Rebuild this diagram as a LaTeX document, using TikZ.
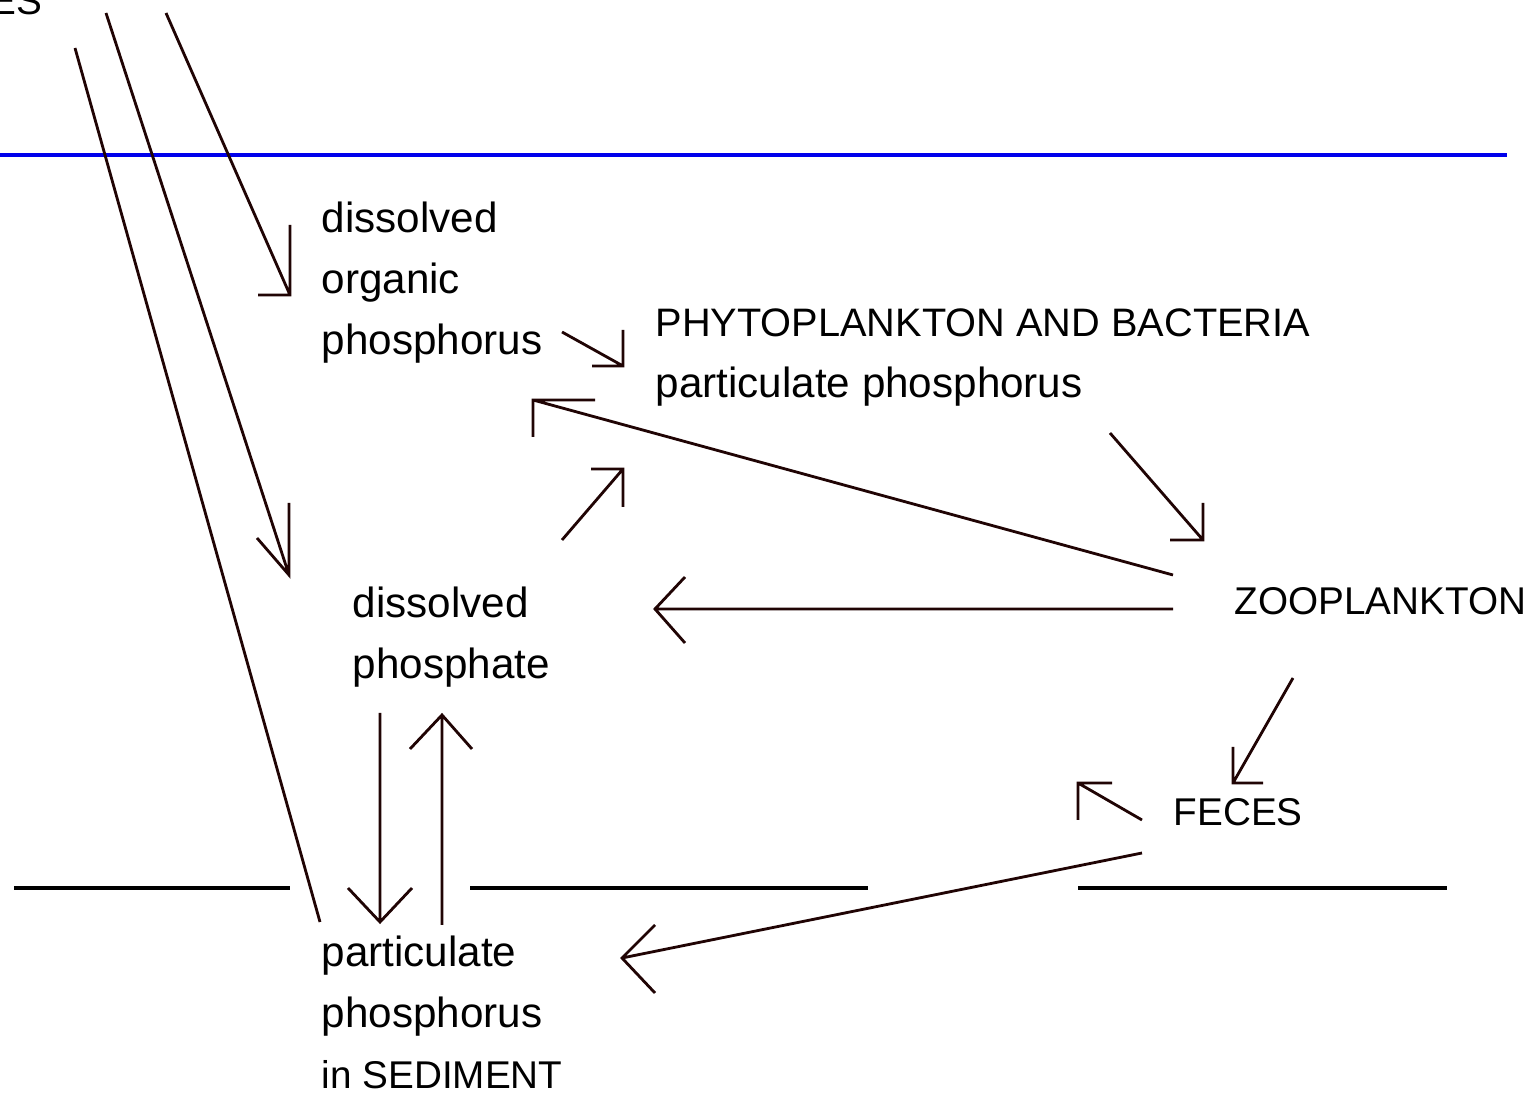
\documentclass[tikz,border=0pt]{standalone}
\usepackage{fontspec}
\setmainfont{Liberation Sans}
\usepackage{tikz}
\definecolor{ink}{RGB}{32,4,4}
\definecolor{surface}{RGB}{0,0,235}
\tikzset{%
    flow/.style={draw=ink, line width=0.8pt},
    level/.style={draw=black, line width=1.15pt},
    lbl/.style={anchor=north west, inner sep=0pt, align=left,
        font=\fontsize{12}{17.4}\selectfont},
    caps/.style={lbl, font=\fontsize{11}{17.4}\selectfont}
}

\begin{document}
\begin{tikzpicture}[x=0.01cm, y=-0.01cm]
    \useasboundingbox (0,0) rectangle (1533,1095);
    \draw[surface, line width=1.15pt] (0,155) -- (1507,155);
    \foreach \a/\b in {14/290, 470/868, 1078/1447}
    {
    \draw[level] (\a,888) -- (\b,888);
    }

    \node[caps, anchor=base west] (src) at (-10,15) {ES};
    \node[lbl] (dop) at (321,201) {dissolved\\organic\\phosphorus};
    \node[lbl] (phyto) at (655,308) {{\fontsize{11.3}{17.4}\selectfont PHYTOPLANKTON AND BACTERIA}\\particulate phosphorus};
    \node[lbl] (dp) at (352,586) {dissolved\\phosphate};
    \node[caps] (zoo) at (1234,587) {ZOOPLANKTON};
    \node[caps] (feces) at (1173,798) {FECES};
    \node[lbl] (sed) at (321,935) {particulate\\phosphorus\\{\fontsize{11}{17.4}\selectfont in SEDIMENT}};

    \coordinate (srcA) at (75,48);       \coordinate (sedIn) at (320,922);
    \coordinate (srcB) at (106,13);      \coordinate (dpIn) at (289,575);
    \coordinate (srcC) at (166,13);      \coordinate (dopIn) at (290,295);
    \coordinate (dopOut) at (562,332);   \coordinate (phytoInA) at (623,366);
    \coordinate (dpOut) at (562,540);    \coordinate (phytoInB) at (623,469);
    \coordinate (zooOutA) at (1173,575); \coordinate (phytoInC) at (533,400);
    \coordinate (phytoOut) at (1110,433);\coordinate (zooIn) at (1203,540);
    \coordinate (zooOutB) at (1173,609); \coordinate (dpInB) at (655,609);
    \coordinate (zooOutC) at (1293,678); \coordinate (fecesIn) at (1233,783);
    \coordinate (fecesOutA) at (1142,820); \coordinate (fecesTip) at (1078,783);
    \coordinate (fecesOutB) at (1142,853); \coordinate (sedInB) at (622,958);
    \coordinate (dpDown) at (380,713);   \coordinate (sedUp) at (380,922);
    \coordinate (sedDown) at (442,925);  \coordinate (dpUp) at (442,715);

    \draw[flow] (srcA) -- (sedIn);
    \draw[flow] (srcB) -- (dpIn) ++(0,-72) -- (dpIn) -- ++(-32,-37);
    \draw[flow] (srcC) -- (dopIn) ++(0,-70) -- (dopIn) -- ++(-32,0);
    \draw[flow] (dopOut) -- (phytoInA) ++(0,-36) -- (phytoInA) -- ++(-31,0);
    \draw[flow] (dpOut) -- (phytoInB) ++(-32,0) -- (phytoInB) -- ++(0,38);
    \draw[flow] (zooOutA) -- (phytoInC) ++(62,0) -- (phytoInC) -- ++(0,37);
    \draw[flow] (phytoOut) -- (zooIn) ++(0,-37) -- (zooIn) -- ++(-33,0);
    \draw[flow] (zooOutB) -- (dpInB) ++(30,-32) -- (dpInB) -- ++(30,34);
    \draw[flow] (zooOutC) -- (fecesIn) ++(0,-36) -- (fecesIn) -- ++(30,0);
    \draw[flow] (fecesOutA) -- (fecesTip) ++(34,0) -- (fecesTip) -- ++(0,37);
    \draw[flow] (fecesOutB) -- (sedInB) ++(33,-33) -- (sedInB) -- ++(33,35);
    \draw[flow] (dpDown) -- (sedUp) ++(-32,-34) -- (sedUp) -- ++(32,-34);
    \draw[flow] (sedDown) -- (dpUp) ++(-32,34) -- (dpUp) -- ++(30,34);
\end{tikzpicture}
\end{document}
